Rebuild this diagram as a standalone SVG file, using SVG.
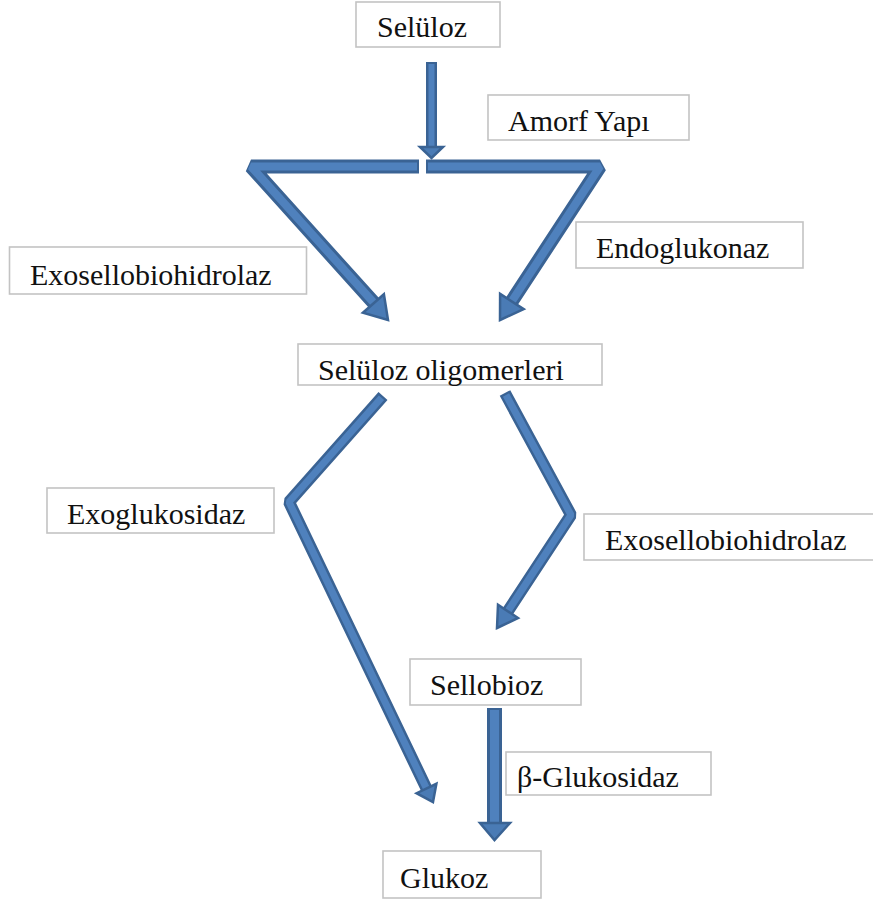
<svg xmlns="http://www.w3.org/2000/svg" width="873" height="901" viewBox="0 0 873 901">
<style>
.box{fill:#fff;stroke:#c3c3c3;stroke-width:1.6}
.t{font-family:"Liberation Serif","Times New Roman",serif;font-size:30px;fill:#111}
.o{fill:none;stroke:#3a6394;stroke-linejoin:bevel;stroke-linecap:butt}
.i{fill:none;stroke:#4f81bd;stroke-linejoin:bevel;stroke-linecap:butt}
.h{fill:#4a7bb5;stroke:#3a6394;stroke-width:2.5;stroke-linejoin:miter}
</style>
<rect width="873" height="901" fill="#fff"/>
<g id="connectors">
<path class="o" d="M431.5 62 V148" stroke-width="11"/>
<path class="i" d="M431.5 64 V148" stroke-width="6"/>
<polygon class="h" points="420,147 443,147 431.5,158"/>
<path class="o" d="M419 166.5 H251 L374 303" stroke-width="14"/>
<path class="i" d="M417 166.5 H251 L374 303" stroke-width="8"/>
<polygon class="h" points="388,320 383.9,294.2 362.9,312.8"/>
<path class="o" d="M426 166.5 H600 L512 301" stroke-width="14"/>
<path class="i" d="M428 166.5 H600 L512 301" stroke-width="8"/>
<polygon class="h" points="500,320 523.7,309.1 500.1,293.9"/>
<path class="o" d="M383 396 L289 502 L426.5 788.5" stroke-width="12"/>
<path class="i" d="M381.5 397.7 L289 502 L426.5 788.5" stroke-width="7"/>
<polygon class="h" points="433,802 436.4,783.8 416.6,793.2"/>
<path class="o" d="M505 393 L571 515 L508 611" stroke-width="12"/>
<path class="i" d="M506 395 L571 515 L508 611" stroke-width="7"/>
<polygon class="h" points="497,628 518,618 498,604.7"/>
<path class="o" d="M494.5 708 V824" stroke-width="15"/>
<path class="i" d="M494.5 710 V824" stroke-width="9"/>
<polygon class="h" points="480,823 510,823 494.5,840"/>
</g>
<g id="seluloz"><rect class="box" x="356" y="2" width="144" height="45"/><text class="t" x="377" y="37">Selüloz</text></g>
<g id="amorf"><rect class="box" x="488" y="95" width="201" height="45"/><text class="t" x="508" y="131">Amorf Yapı</text></g>
<g id="exo1"><rect class="box" x="9.5" y="247" width="297" height="47"/><text class="t" x="30" y="285">Exosellobiohidrolaz</text></g>
<g id="endo"><rect class="box" x="576" y="222" width="227" height="46"/><text class="t" x="596" y="258">Endoglukonaz</text></g>
<g id="oligo"><rect class="box" x="298" y="344" width="304" height="41"/><text class="t" x="318" y="380">Selüloz oligomerleri</text></g>
<g id="exoglu"><rect class="box" x="47" y="488" width="227" height="45"/><text class="t" x="67" y="524">Exoglukosidaz</text></g>
<g id="exo2"><rect class="box" x="584" y="514" width="300" height="46"/><text class="t" x="605" y="550">Exosellobiohidrolaz</text></g>
<g id="sellobioz"><rect class="box" x="410" y="659" width="171" height="46"/><text class="t" x="430" y="695">Sellobioz</text></g>
<g id="betaglu"><rect class="box" x="506" y="752" width="205" height="43"/><text class="t" x="517" y="787">β-Glukosidaz</text></g>
<g id="glukoz"><rect class="box" x="383" y="851" width="158" height="47"/><text class="t" x="400" y="888">Glukoz</text></g>
</svg>
